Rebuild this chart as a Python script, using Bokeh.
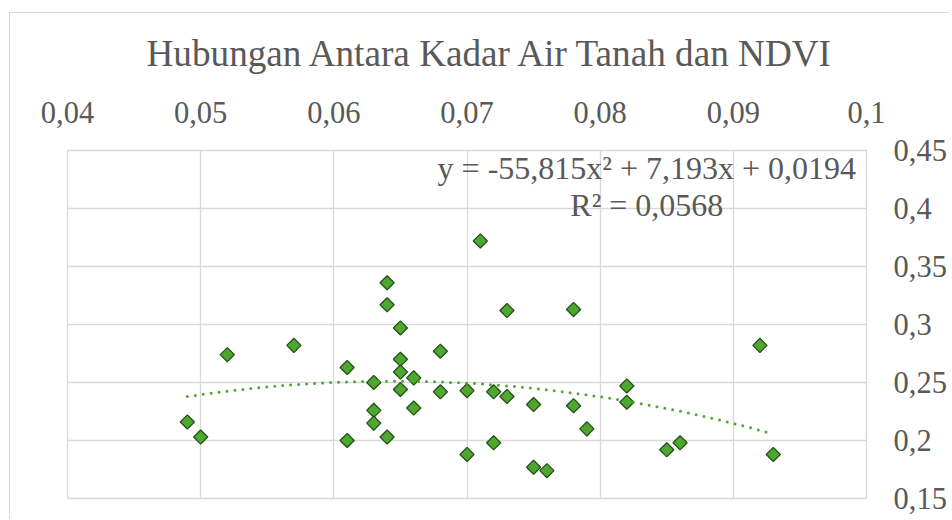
import numpy as np
from bokeh.plotting import figure
from bokeh.models import FixedTicker, Label, ColumnDataSource
from bokeh.embed import file_html
from bokeh.resources import INLINE

title_text = "Hubungan Antara Kadar Air Tanah dan NDVI"

kadar_air = [0.049, 0.050, 0.052, 0.057, 0.061, 0.061, 0.063, 0.063, 0.063, 0.064,
             0.064, 0.064, 0.065, 0.065, 0.065, 0.065, 0.066, 0.066, 0.068, 0.068,
             0.070, 0.070, 0.071, 0.072, 0.072, 0.073, 0.073, 0.075, 0.075, 0.076,
             0.078, 0.078, 0.079, 0.082, 0.082, 0.085, 0.086, 0.092, 0.093]
ndvi = [0.216, 0.203, 0.274, 0.282, 0.263, 0.200, 0.250, 0.226, 0.215, 0.336,
        0.317, 0.203, 0.297, 0.270, 0.259, 0.244, 0.254, 0.228, 0.277, 0.242,
        0.243, 0.188, 0.372, 0.242, 0.198, 0.312, 0.238, 0.231, 0.177, 0.174,
        0.313, 0.230, 0.210, 0.247, 0.233, 0.192, 0.198, 0.282, 0.188]

x_ticks = [0.04, 0.05, 0.06, 0.07, 0.08, 0.09, 0.1]
x_tick_labels = ["0,04", "0,05", "0,06", "0,07", "0,08", "0,09", "0,1"]
y_ticks = [0.15, 0.2, 0.25, 0.3, 0.35, 0.4, 0.45]
y_tick_labels = ["0,15", "0,2", "0,25", "0,3", "0,35", "0,4", "0,45"]

trend_coef = [-55.815, 7.193, 0.0194]
eq_text = "y = -55,815x² + 7,193x + 0,0194"
r2_text = "R² = 0,0568"

TEXT = "#595959"
FONT = "Liberation Serif"
GRID = "#d9d9d9"

p = figure(width=940, height=519, x_range=(0.04, 0.1), y_range=(0.15, 0.45),
           x_axis_location="above", y_axis_location="right",
           output_backend="svg", toolbar_location=None,
           min_border_left=58, min_border_right=81, min_border_top=150, min_border_bottom=21,
           margin=(0, 0, 0, 9))
# light chart-area border (top and left edges) drawn behind the transparent canvas border
p.styles = {"background": ("linear-gradient(#d9d9d9,#d9d9d9) 0px 12px / 100% 1px no-repeat, "
                           "linear-gradient(#d9d9d9,#d9d9d9) 0px 12px / 1px 100% no-repeat")}

p.title.text = title_text
p.title.align = "left"
p.title.offset = 79
p.title.standoff = 50
p.title.text_font = FONT
p.title.text_font_size = "37.2px"
p.title.text_font_style = "normal"
p.title.text_color = TEXT

p.xaxis.ticker = FixedTicker(ticks=x_ticks)
p.xaxis.major_label_overrides = dict(zip(x_ticks, x_tick_labels))
p.yaxis.ticker = FixedTicker(ticks=y_ticks)
p.yaxis.major_label_overrides = dict(zip(y_ticks, y_tick_labels))
for ax in (p.xaxis[0], p.yaxis[0]):
    ax.axis_line_color = None
    ax.major_tick_line_color = None
    ax.minor_tick_line_color = None
    ax.major_tick_out = 0
    ax.major_tick_in = 0
    ax.minor_tick_out = 0
    ax.minor_tick_in = 0
    ax.major_label_text_font = FONT
    ax.major_label_text_font_size = "30.5px"
    ax.major_label_text_color = TEXT
p.xaxis.major_label_standoff = 28
p.yaxis.major_label_standoff = 27

p.xgrid.ticker = FixedTicker(ticks=x_ticks)
p.ygrid.ticker = FixedTicker(ticks=y_ticks)
p.grid.grid_line_color = GRID
p.grid.grid_line_width = 1.3
p.outline_line_color = GRID
p.outline_line_width = 1.3
p.background_fill_color = "white"
p.border_fill_color = None

src = ColumnDataSource(data=dict(x=kadar_air, y=ndvi))
p.scatter(x="x", y="y", source=src, marker="square", angle=np.pi / 4, size=10,
          fill_color="#4ea72e", line_color="#26501a", line_width=1.3)

tx = np.linspace(min(kadar_air), max(kadar_air), 200)
ty = np.polyval(trend_coef, tx)
p.line(tx, ty, line_color="#4ea72e", line_width=3, line_dash="0 8", line_cap="round")

# trendline equation
p.add_layout(Label(x=0.0835, y=0.4345, text=eq_text, text_align="center",
                   text_baseline="alphabetic", text_font=FONT,
                   text_font_size="32px", text_color=TEXT))
p.add_layout(Label(x=0.0835, y=0.4027, text=r2_text, text_align="center",
                   text_baseline="alphabetic", text_font=FONT,
                   text_font_size="32px", text_color=TEXT))

open("out.html", "w").write(file_html(p, INLINE))
